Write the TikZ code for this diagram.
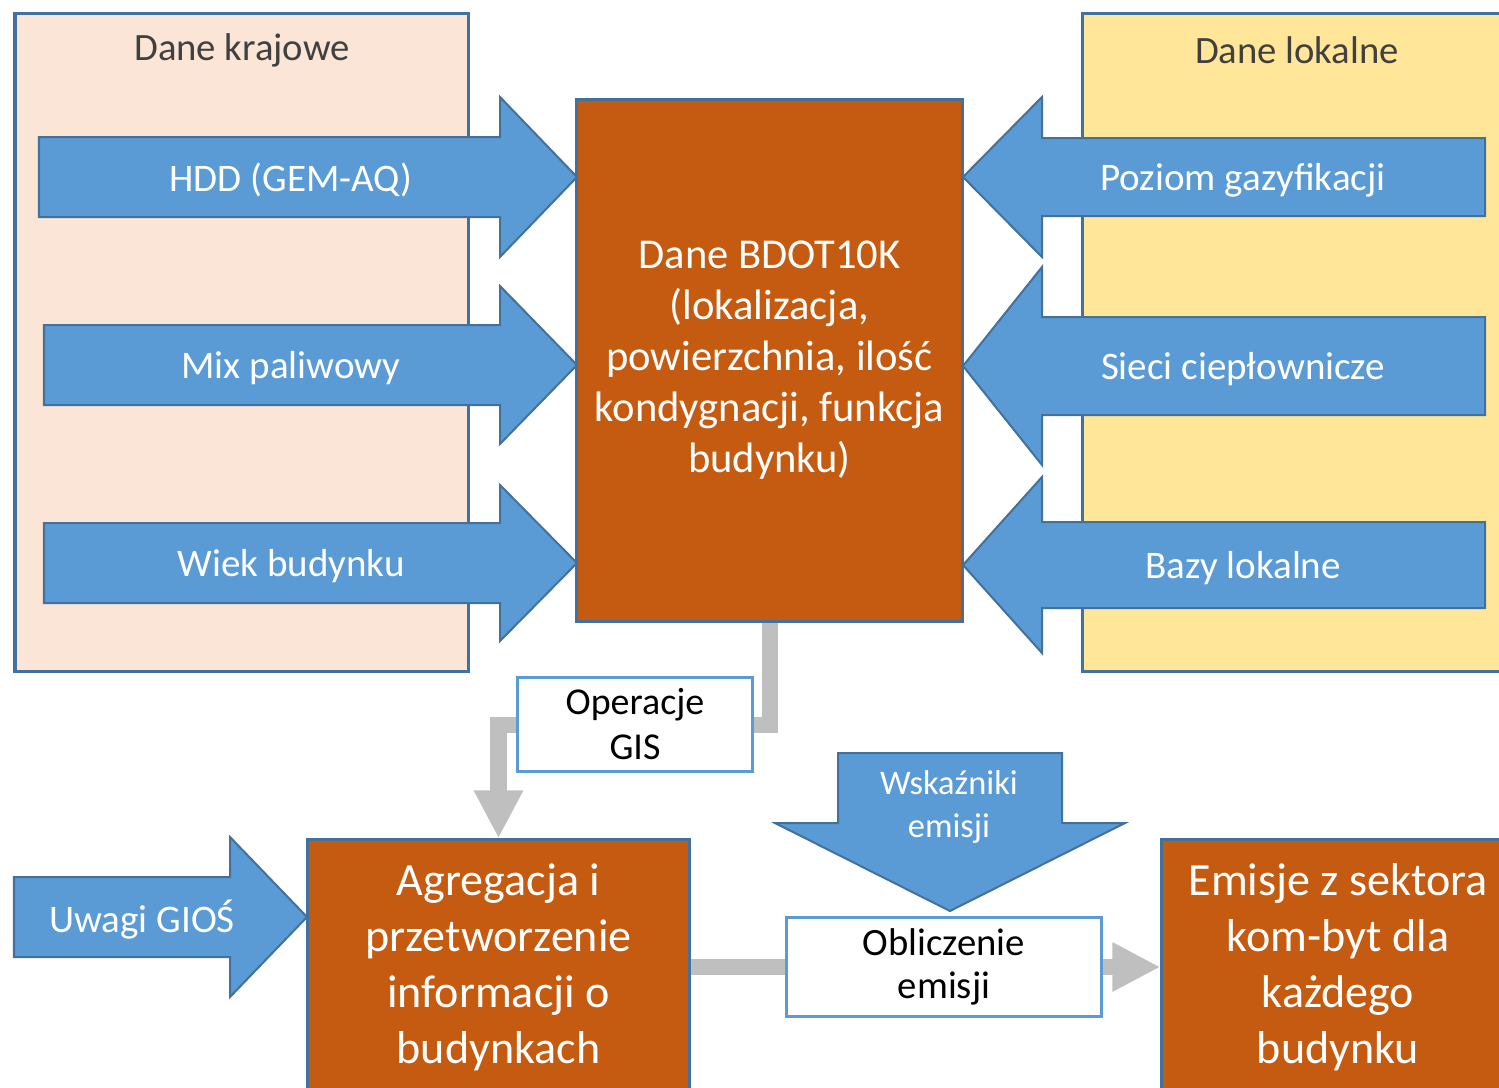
\documentclass[tikz,border=0pt]{standalone}
\usepackage{fontspec}
\setmainfont{Carlito}
\usetikzlibrary{arrows.meta}
\definecolor{panelpeach}{HTML}{FBE5D6}
\definecolor{panelyellow}{HTML}{FFE699}
\definecolor{arrowblue}{HTML}{5B9BD5}
\definecolor{edgeblue}{HTML}{41719C}
\definecolor{boxorange}{HTML}{C55A11}
\definecolor{flowgrey}{HTML}{BFBFBF}
\definecolor{titlegrey}{HTML}{404040}
\begin{document}
\begin{tikzpicture}[x=0.01cm,y=-0.01cm,
  panel/.style={draw=edgeblue,line width=0.03cm},
  paneltitle/.style={text=titlegrey,font=\fontsize{11}{13}\selectfont},
  blockarrow/.style={fill=arrowblue,draw=edgeblue,line width=0.02cm,line join=miter},
  arrowtext/.style={text=white,font=\fontsize{11.1}{13.3}\selectfont},
  procbox/.style={draw=edgeblue,fill=boxorange,line width=0.03cm,text=white,align=center,inner sep=0pt},
  stepbox/.style={draw=arrowblue,fill=white,line width=0.03cm,align=center,inner sep=0pt},
  flow/.style={draw=flowgrey,line width=0.16cm},
  flowtip/.style={-{Triangle[width=0.46cm,length=0.48cm]}}]
  \path[use as bounding box,clip] (0,0) rectangle (1499,1087);

  % national and local input panels
  \draw[panel,fill=panelpeach] (15,13) rectangle (468,671);
  \node[paneltitle] (krajowe) at (242,50) {Dane krajowe};
  \draw[panel,fill=panelyellow] (1082,13) rectangle (1520,671);
  \node[paneltitle] (lokalne) at (1297,50) {Dane lokalne};

  \foreach \yc/\hh/\lbl/\nm/\xl in {177/80/HDD (GEM-AQ)/hdd/39, 365/79/Mix paliwowy/mix/44, 563/78/Wiek budynku/wiek/44} {
    \draw[blockarrow] (\xl,\yc-40) -- (500,\yc-40) -- (500,\yc-\hh) -- (577,\yc)
      -- (500,\yc+\hh) -- (500,\yc+40) -- (\xl,\yc+40) -- cycle;
    \node[arrowtext] (\nm) at (291,\yc+3) {\lbl};
  }
  \foreach \yc/\sh/\hh/\lbl/\nm in {177/39/80/Poziom gazyfikacji/gaz, 366/49/99/Sieci ciepłownicze/sieci, 565/43/88/Bazy lokalne/bazy} {
    \draw[blockarrow] (1485,\yc-\sh) -- (1042,\yc-\sh) -- (1042,\yc-\hh) -- (963,\yc)
      -- (1042,\yc+\hh) -- (1042,\yc+\sh) -- (1485,\yc+\sh) -- cycle;
    \node[arrowtext] (\nm) at (1243,\yc+3) {\lbl};
  }

  \node[procbox,minimum width=3.85cm,minimum height=5.21cm,font=\fontsize{12.1}{14.5}\selectfont]
    (bdot) at (769.5,360.5) {Dane BDOT10K\\(lokalizacja,\\powierzchnia, ilość\\kondygnacji, funkcja\\budynku)};

  % processing chain
  \node[stepbox,minimum width=2.35cm,minimum height=0.94cm,font=\fontsize{10.8}{12.8}\selectfont]
    (gis) at (635,724.5) {Operacje\\GIS};
  \node[procbox,minimum width=3.81cm,minimum height=2.54cm,font=\fontsize{13.1}{15.9}\selectfont]
    (agr) at (498.5,967) {Agregacja i\\przetworzenie\\informacji o\\budynkach};
  \node[stepbox,minimum width=3.15cm,minimum height=0.99cm,font=\fontsize{11}{12.2}\selectfont]
    (obl) at (944,967) {Obliczenie\\emisji};
  \node[procbox,minimum width=3.52cm,minimum height=2.54cm,font=\fontsize{13.1}{15.9}\selectfont]
    (emi) at (1338,967) {Emisje z sektora\\kom-byt dla\\każdego\\budynku};

  \draw[flow] (bdot.south) |- (gis.east);
  \draw[flow,flowtip] (gis.west) -| (agr.north);
  \draw[flow] (agr.east) -- (obl.west);
  \draw[flow,flowtip] (obl.east) -- (emi.west);

  \draw[blockarrow] (14,877) -- (230,877) -- (230,837) -- (307,917)
    -- (230,997) -- (230,957) -- (14,957) -- cycle;
  \node[arrowtext] (uwagi) at (142,920) {Uwagi GIOŚ};

  \draw[blockarrow] (838,753) -- (1062,753) -- (1062,823) -- (1125,823)
    -- (950,911) -- (775,823) -- (838,823) -- cycle;
  \node[arrowtext,align=center,font=\fontsize{9.8}{12}\selectfont] (wsk) at (949,807) {Wskaźniki\\emisji};
\end{tikzpicture}
\end{document}
